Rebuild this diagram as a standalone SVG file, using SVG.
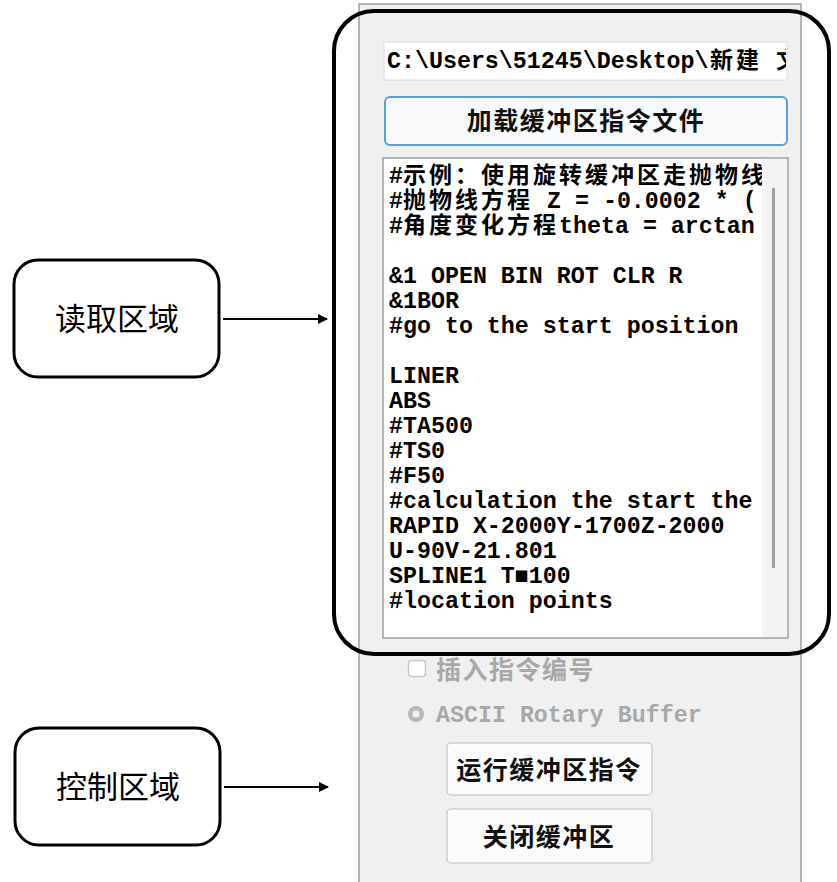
<svg xmlns="http://www.w3.org/2000/svg" width="837" height="882" viewBox="0 0 837 882">
<style>
.mono{font-family:"Liberation Mono","Noto Sans CJK SC",monospace;font-size:23.3px;font-weight:bold;fill:#000}
.cjk{font-family:"Noto Sans CJK SC","Noto Sans CJK JP",sans-serif;font-size:23px;letter-spacing:3px;font-weight:bold;fill:#000}
.btn{fill:#fbfbfb;stroke:#d0d0d0;stroke-width:1.5}
.btntxt{font-family:"Noto Sans CJK SC",sans-serif;font-size:25px;letter-spacing:1.5px;font-weight:bold;fill:#111;text-anchor:middle}
.label{fill:#fff;stroke:#000;stroke-width:3}
.labeltxt{font-family:"Noto Sans CJK SC",sans-serif;font-size:31px;fill:#000;text-anchor:middle}
</style>
<defs>
<clipPath id="clipText"><rect x="384" y="159" width="378" height="478"/></clipPath>
<clipPath id="clipPath"><rect x="384" y="42" width="402" height="38"/></clipPath>
<marker id="arr" markerWidth="10" markerHeight="10" refX="9" refY="5" orient="auto" markerUnits="userSpaceOnUse" viewBox="0 0 10 10">
<path d="M0,0 L10,5 L0,10 z" fill="#000"/>
</marker>
</defs>
<rect width="837" height="882" fill="#fff"/>
<g id="panel">
<rect x="359" y="4" width="442" height="890" fill="#f0f0f0" stroke="#a0a0a0" stroke-width="1.5"/>
</g>
<g id="path-box">
<rect x="384" y="42" width="403" height="38" fill="#fff" stroke="#dcdcdc" stroke-width="1"/>
<g clip-path="url(#clipPath)">
<text y="68"><tspan class="mono" x="387">C:\Users\51245\Desktop\</tspan><tspan class="cjk" x="710">新建</tspan><tspan class="cjk" x="776">文</tspan></text>
</g>
</g>
<g id="btn-load">
<rect x="385" y="97" width="402" height="48" rx="5" fill="#f8f9fa" stroke="#5aa0e0" stroke-width="2"/>
<text class="btntxt" x="586" y="130">加载缓冲区指令文件</text>
</g>
<g id="text-area">
<rect x="383" y="158" width="405" height="480" fill="#fff" stroke="#a0a0a0" stroke-width="1.5"/>
<rect x="762" y="159" width="25" height="478" fill="#f3f3f3"/>
<rect x="772" y="188" width="3" height="380" fill="#a0a0a0"/>
<g clip-path="url(#clipText)">
<text y="183"><tspan class="mono" x="389">#</tspan><tspan class="cjk" x="403">示例：使用旋转缓冲区走抛物线</tspan></text>
<text y="208"><tspan class="mono" x="389">#</tspan><tspan class="cjk" x="403">抛物线方程</tspan><tspan class="mono" x="533" xml:space="preserve"> Z = -0.0002 * (</tspan></text>
<text y="233"><tspan class="mono" x="389">#</tspan><tspan class="cjk" x="403">角度变化方程</tspan><tspan class="mono" x="559">theta = arctan</tspan></text>
<text class="mono" x="389" y="283">&amp;1 OPEN BIN ROT CLR R</text>
<text class="mono" x="389" y="308">&amp;1BOR</text>
<text class="mono" x="389" y="333">#go to the start position</text>
<text class="mono" x="389" y="383">LINER</text>
<text class="mono" x="389" y="408">ABS</text>
<text class="mono" x="389" y="433">#TA500</text>
<text class="mono" x="389" y="458">#TS0</text>
<text class="mono" x="389" y="483">#F50</text>
<text class="mono" x="389" y="508">#calculation the start the</text>
<text class="mono" x="389" y="533">RAPID X-2000Y-1700Z-2000</text>
<text class="mono" x="389" y="558">U-90V-21.801</text>
<text class="mono" x="389" y="583">SPLINE1 T■100</text>
<text class="mono" x="389" y="608">#location points</text>
</g>
</g>
<g id="read-frame">
<rect x="334" y="11" width="495" height="643" rx="40" fill="none" stroke="#000" stroke-width="4"/>
</g>
<g id="checkbox">
<rect x="408.5" y="660.5" width="17" height="16" rx="3" fill="#fff" stroke="#c8c8c8" stroke-width="1.5"/>
<text class="btntxt" x="436" y="679" style="text-anchor:start;fill:#a8a8a8">插入指令编号</text>
</g>
<g id="radio">
<circle cx="416" cy="714" r="8" fill="#b8b8b8"/>
<circle cx="416" cy="714" r="3.5" fill="#f0f0f0"/>
<text class="mono" x="436" y="722" style="fill:#a8a8a8">ASCII Rotary Buffer</text>
</g>
<g id="btn-run">
<rect class="btn" x="447" y="743" width="205" height="52" rx="4"/>
<text class="btntxt" x="549" y="779">运行缓冲区指令</text>
</g>
<g id="btn-close">
<rect class="btn" x="447" y="809" width="205" height="54" rx="4"/>
<text class="btntxt" x="549" y="846">关闭缓冲区</text>
</g>
<g id="label-read">
<rect class="label" x="14" y="260" width="205" height="117" rx="24"/>
<text class="labeltxt" x="117" y="330">读取区域</text>
</g>
<g id="label-control">
<rect class="label" x="15" y="728" width="205" height="117" rx="24"/>
<text class="labeltxt" x="118" y="798">控制区域</text>
</g>
<g id="connectors">
<line x1="223" y1="319" x2="327" y2="319" stroke="#000" stroke-width="2" marker-end="url(#arr)"/>
<line x1="224" y1="787" x2="328" y2="787" stroke="#000" stroke-width="2" marker-end="url(#arr)"/>
</g>
</svg>
